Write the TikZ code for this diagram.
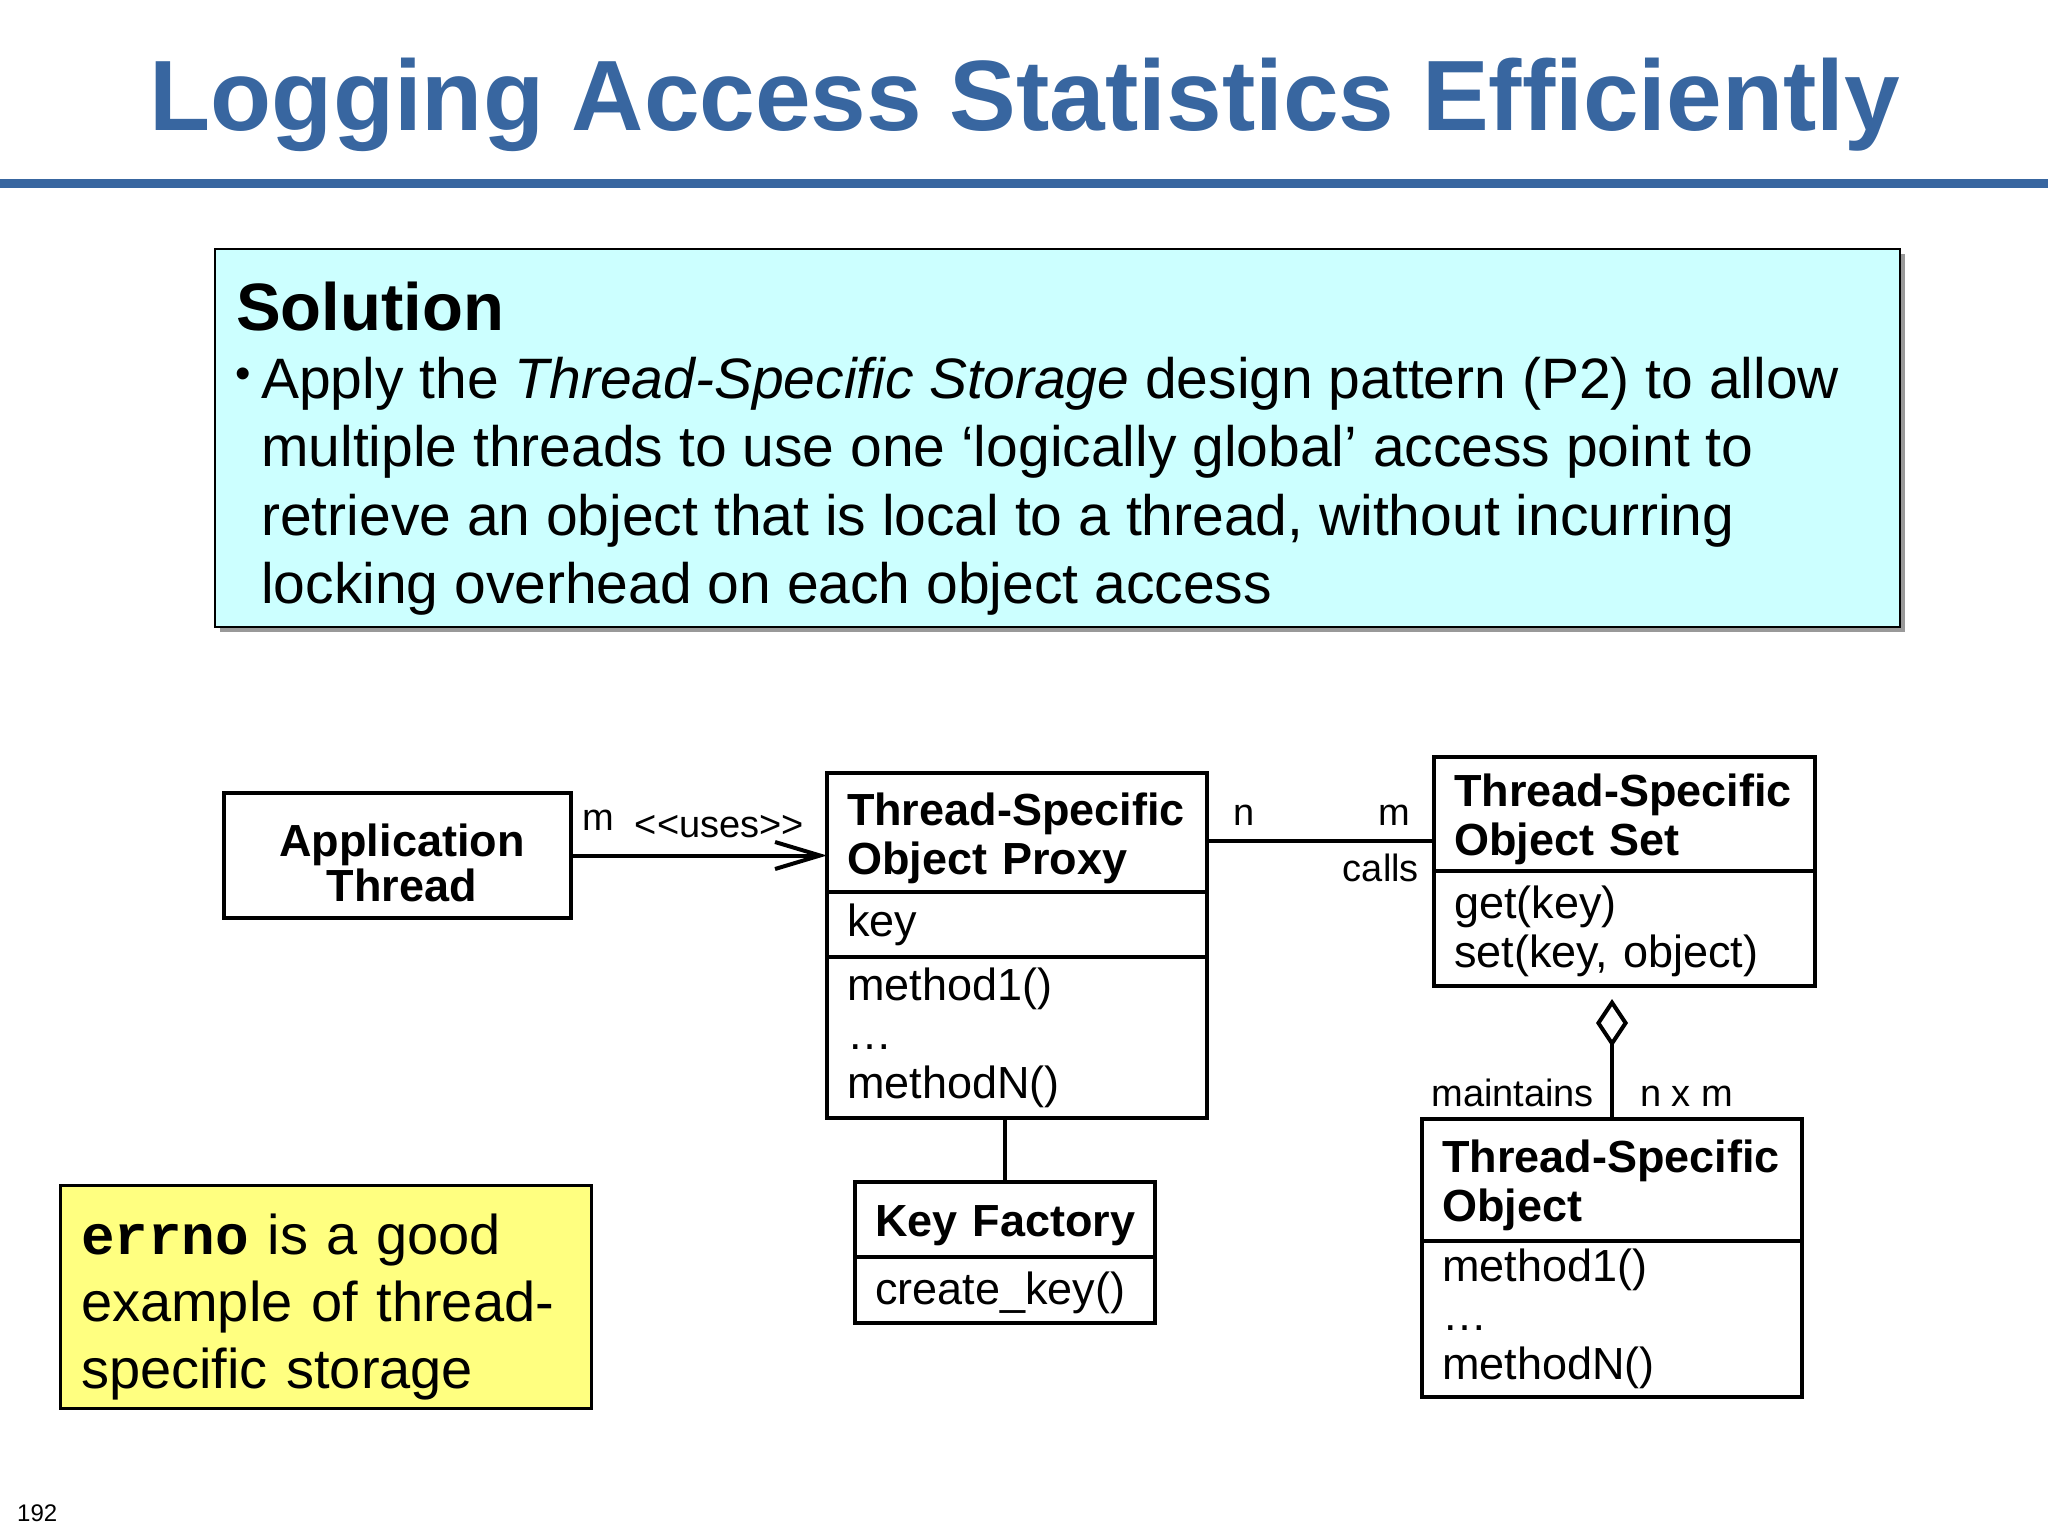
\documentclass[tikz,border=0pt]{standalone}
\usepackage{fontspec}
\setmainfont{Liberation Sans}
\setmonofont{Liberation Mono}
\usetikzlibrary{
    positioning,
    arrows.meta,
    shadows
}
\definecolor{titleblue}{RGB}{56,102,160}
\definecolor{solcyan}{RGB}{204,255,255}
\definecolor{noteyellow}{RGB}{255,255,128}
\newcommand{\titlefont}{\fontsize{100pt}{110pt}\selectfont\bfseries}
\newcommand{\headfont}{\fontsize{67pt}{70pt}\selectfont\bfseries}
\newcommand{\bodyfont}{\fontsize{57pt}{68.5pt}\selectfont}
\newcommand{\umlfont}{\fontsize{45pt}{49pt}\selectfont}
\newcommand{\rolefont}{\fontsize{38pt}{40pt}\selectfont}
\hyphenpenalty=10000
\exhyphenpenalty=10000
\tikzset{
    >=Stealth,
    umlpart/.style={
        draw,
        line width=4pt,
        outer sep=0pt,
        inner xsep=20pt,
        inner ysep=0pt,
        align=left,
        font=\umlfont,
        text width=#1
    },
    umlhead/.style={
        umlpart=#1,
        font=\umlfont\bfseries,
        execute at begin node={\rule{0pt}{44pt}}
    },
    role/.style={
        font=\rolefont,
        inner sep=0pt
    },
    assoc/.style={
        line width=4pt
    }
}

\begin{document}
\begin{tikzpicture}[
    x=1pt,
    y=-1pt,
    >=Stealth
]
    \useasboundingbox (0,0) rectangle (2048,1536);

    % Titulo
    \node[font=\titlefont, text=titleblue, anchor=base, inner sep=0pt]
        (title) at (1025,131) {Logging Access Statistics Efficiently};
    \draw[titleblue, line width=9pt] (0,183) -- (2048,183);

    % Solucion
    \node[draw, line width=2.5pt, fill=solcyan, anchor=north west,
          minimum width=1685pt, minimum height=378pt, outer sep=0pt,
          drop shadow={shadow xshift=5pt, shadow yshift=-5pt,
                       fill=black!40, opacity=1}]
        (solbox) at (215,249) {};
    \node[font=\headfont, anchor=base west, inner sep=0pt]
        (soltitle) at (236,330) {Solution};
    \node[font=\bodyfont, align=left, anchor=base west, inner sep=0pt]
        (soltext) at (261,603.5)
        {\llap{\raisebox{10pt}{\fontsize{44pt}{44pt}\selectfont •}\hspace{10pt}}Apply the \textit{Thread-Specific Storage} design pattern (P2) to allow\\
         multiple threads to use one ‘logically global’ access point to\\
         retrieve an object that is local to a thread, without incurring\\
         locking overhead on each object access};

    % Nota
    \node[draw, line width=3pt, fill=noteyellow, anchor=north west,
          minimum height=223pt, text width=489pt, inner xsep=21pt,
          inner ysep=0pt, outer sep=0pt, align=left,
          font=\fontsize{56pt}{67pt}\selectfont]
        (note) at (60,1185)
        {\rule{0pt}{62pt}{\ttfamily\bfseries errno} is a good\\example of thread-\\specific storage};
    \node[font=\fontsize{24pt}{24pt}\selectfont, anchor=base west, inner sep=0pt]
        (page) at (17,1521) {192};

    % Clases
    \node[draw, line width=4pt, outer sep=0pt, align=center,
          font=\fontsize{45pt}{45pt}\selectfont\bfseries,
          minimum width=347pt, minimum height=125pt]
        (app) at (397,855.5) {\rule{0pt}{48pt}\hspace*{10pt}Application\\\hspace*{10pt}Thread};

    \node[umlhead=340pt, minimum height=119pt, anchor=north west]
        (proxyhead) at (827,773) {Thread-Specific\\Object Proxy};
    \node[umlpart=340pt, minimum height=65pt, below=0pt of proxyhead]
        (proxykey) {key};
    \node[umlpart=340pt, minimum height=161pt, below=0pt of proxykey]
        (proxyops) {method1()\\…\\methodN()};

    \node[umlhead=341pt, minimum height=114pt, anchor=north west]
        (sethead) at (1434,757) {Thread-Specific\\Object Set};
    \node[umlpart=341pt, minimum height=115pt, below=0pt of sethead]
        (setops) {\rule{0pt}{38pt}get(key)\\set(key, object)};

    \node[umlhead=340pt, minimum height=122pt, anchor=north west]
        (tsohead) at (1422,1119) {Thread-Specific\\Object};
    \node[umlpart=340pt, minimum height=156pt, below=0pt of tsohead]
        (tsoops) {method1()\\…\\methodN()};

    \node[umlhead=260pt, minimum height=75pt, anchor=north west]
        (keyhead) at (855,1182) {Key~Factory};
    \node[umlpart=260pt, minimum height=66pt, below=0pt of keyhead]
        (keyops) {\rule{0pt}{38pt}create\_key()};

    % Asociaciones
    \draw[assoc, -{Straight Barb[length=45pt, width=27pt]}]
        (app.east) -- (app.east -| proxyhead.west)
        node[role, at start, anchor=base west, xshift=10pt, yshift=25pt]
            (usesm) {m}
        node[role, at end, anchor=base east, xshift=-21pt, yshift=18pt]
            (uses) {<\kern0pt<uses>\kern0pt>};

    \coordinate (callsstart) at ([yshift=-8.5pt]proxyhead.east);
    \draw[assoc]
        (callsstart) -- (callsstart -| sethead.west)
        node[role, at start, anchor=base west, xshift=24pt, yshift=16pt]
            (callsn) {n}
        node[role, at end, anchor=base east, xshift=-22pt, yshift=16pt]
            (callsm) {m}
        node[role, at end, anchor=base east, xshift=-13pt, yshift=-40pt]
            (calls) {calls};

    \draw[assoc] (keyhead.north) -- (keyhead.north |- proxyops.south);

    \coordinate (aggend) at (tsohead.north |- setops.south);
    \draw[assoc, -{Diamond[fill=white, length=48pt, width=32pt]}]
        (tsohead.north) -- ([yshift=-13pt]aggend)
        node[role, at start, anchor=base east, xshift=-16pt, yshift=13pt]
            (maint) {maintains}
        node[role, at start, anchor=base west, xshift=26pt, yshift=13pt]
            (nxm) {n x m};

\end{tikzpicture}
\end{document}
